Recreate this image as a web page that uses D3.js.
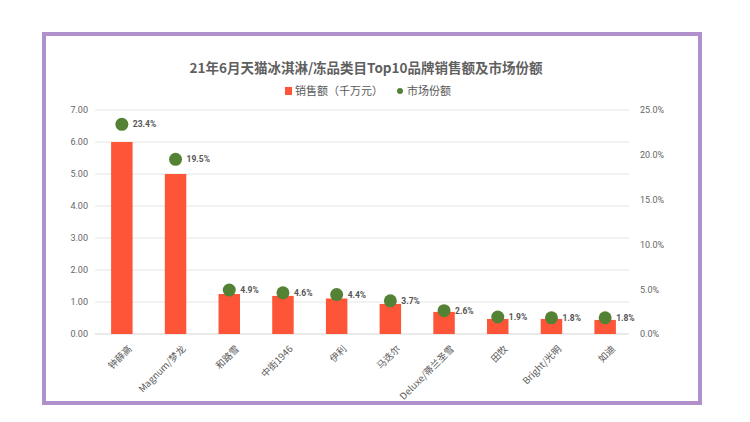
<!DOCTYPE html>
<html>
<head>
<meta charset="utf-8">
<script src="https://cdn.jsdelivr.net/npm/d3@7"></script>
<style>
  body { margin: 0; background: #fff; }
  text { font-family: "Noto Sans CJK SC", "Noto Sans", sans-serif; }
</style>
</head>
<body>
<div id="chart"></div>
<script>
// data
var brands = ["钟薛高", "Magnum/梦龙", "和路雪", "中街1946", "伊利", "马迭尔", "Deluxe/蒂兰圣雪", "田牧", "Bright/光明", "如迪"];
var sales = [6.0, 5.0, 1.25, 1.19, 1.11, 0.94, 0.69, 0.47, 0.47, 0.44];
var share = [23.4, 19.5, 4.9, 4.6, 4.4, 3.7, 2.6, 1.9, 1.8, 1.8];
var leftTicks = [0, 1, 2, 3, 4, 5, 6, 7];
var rightTicks = [0, 5, 10, 15, 20, 25];

var width = 750, height = 422;
var margin = { top: 110, right: 118, bottom: 88, left: 95 };
var chartWidth = width - margin.left - margin.right;
var chartHeight = height - margin.top - margin.bottom;

var svg = d3.select("#chart").append("svg")
    .attr("width", width)
    .attr("height", height);

// purple frame
svg.append("rect")
    .attr("x", 44).attr("y", 34)
    .attr("width", 656).attr("height", 369)
    .attr("fill", "#fff")
    .attr("stroke", "#af8fcc")
    .attr("stroke-width", 4);

var chartGroup = svg.append("g")
    .attr("transform", `translate(${margin.left}, ${margin.top})`);

var x = d3.scaleBand().domain(brands).range([0, chartWidth]).paddingInner(0.6).paddingOuter(0.3);
var yL = d3.scaleLinear().domain([0, 7]).range([chartHeight, 0]);
var yR = d3.scaleLinear().domain([0, 25]).range([chartHeight, 0]);

// gridlines
chartGroup.selectAll(".grid").data(leftTicks).enter().append("line")
    .attr("x1", 0).attr("x2", chartWidth - 3)
    .attr("y1", d => yL(d)).attr("y2", d => yL(d))
    .attr("stroke", d => d === 0 ? "#d6d6d6" : "#e6e6e6")
    .attr("stroke-width", 1.2);

// left axis
var leftAxis = d3.axisLeft(yL).tickValues(leftTicks).tickFormat(d3.format(".2f")).tickSize(0).tickPadding(7);
var gl = chartGroup.append("g").call(leftAxis);
gl.select(".domain").remove();
gl.selectAll("text").attr("fill", "#666").style("font-size", "9px").style("font-family", "Roboto, sans-serif");

// right axis
var rightAxis = d3.axisRight(yR).tickValues(rightTicks).tickFormat(d => d3.format(".1f")(d) + "%").tickSize(0).tickPadding(8);
var gr = chartGroup.append("g").attr("transform", `translate(${chartWidth},0)`).call(rightAxis);
gr.select(".domain").remove();
gr.selectAll("text").attr("fill", "#666").style("font-size", "9px").style("font-family", "Roboto, sans-serif");

// bars
chartGroup.selectAll(".bar").data(sales).enter().append("rect")
    .attr("x", (d, i) => x(brands[i]))
    .attr("width", x.bandwidth())
    .attr("y", d => yL(d))
    .attr("height", d => chartHeight - yL(d))
    .attr("fill", "#fe5538");

// share dots
chartGroup.selectAll(".dot").data(share).enter().append("circle")
    .attr("cx", (d, i) => x(brands[i]) + x.bandwidth() / 2)
    .attr("cy", d => yR(d))
    .attr("r", 6.5)
    .attr("fill", "#548235");

chartGroup.selectAll(".lbl").data(share).enter().append("text")
    .attr("x", (d, i) => x(brands[i]) + x.bandwidth() / 2 + 11)
    .attr("y", d => yR(d))
    .attr("dy", "0.35em")
    .attr("fill", "#555")
    .style("font-size", "8.5px")
    .style("font-weight", "bold")
    .style("font-family", "Roboto, sans-serif")
    .text(d => d3.format(".1f")(d) + "%");

// x labels
var bottomAxis = d3.axisBottom(x).tickSize(0).tickPadding(6);
var gb = chartGroup.append("g").attr("transform", `translate(0,${chartHeight})`).call(bottomAxis);
gb.select(".domain").remove();
gb.selectAll("text")
    .attr("fill", "#595959")
    .style("font-size", "9.5px")
    .attr("text-anchor", "end")
    .attr("dy", "0.35em")
    .attr("transform", "translate(4,9) rotate(-45)");

// title
svg.append("text")
    .attr("x", 366).attr("y", 73)
    .attr("text-anchor", "middle")
    .attr("fill", "#5f5f5f")
    .style("font-size", "13.5px")
    .style("font-weight", "bold")
    .text("21年6月天猫冰淇淋/冻品类目Top10品牌销售额及市场份额");

// legend
var legend = svg.append("g").attr("transform", "translate(285, 91)");
legend.append("rect").attr("x", 0).attr("y", -4).attr("width", 7).attr("height", 8).attr("fill", "#fe5538");
legend.append("text").attr("x", 10).attr("y", 0).attr("dy", "0.35em")
    .attr("fill", "#595959").style("font-size", "11px").text("销售额（千万元）");
legend.append("circle").attr("cx", 115).attr("cy", 0).attr("r", 3).attr("fill", "#548235");
legend.append("text").attr("x", 122).attr("y", 0).attr("dy", "0.35em")
    .attr("fill", "#595959").style("font-size", "11px").text("市场份额");
</script>
</body>
</html>
